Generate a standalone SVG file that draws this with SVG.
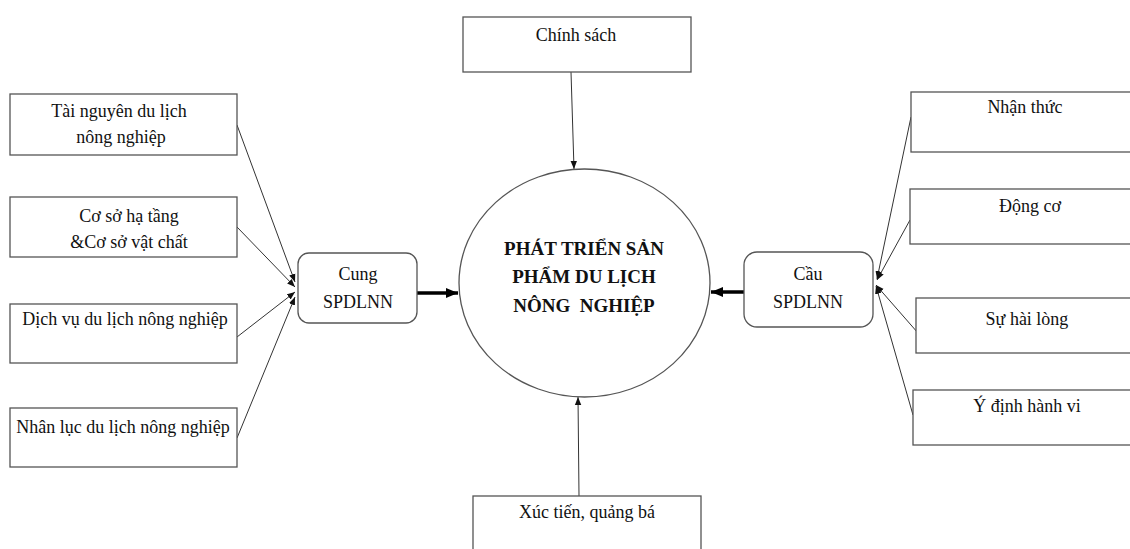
<svg xmlns="http://www.w3.org/2000/svg" width="1130" height="549" viewBox="0 0 1130 549">
<style>
.box{fill:#fff;stroke:#555;stroke-width:1.3}
.t{font-family:"Liberation Serif","Times New Roman",serif;font-size:18px;fill:#111;text-anchor:middle}
.b{font-family:"Liberation Serif","Times New Roman",serif;font-size:19px;font-weight:bold;fill:#111;text-anchor:middle;white-space:pre}
.thin{stroke:#333;stroke-width:1;fill:none}
.thick{stroke:#000;stroke-width:3.5;fill:none}
</style>
<defs>
<marker id="ah" markerUnits="userSpaceOnUse" markerWidth="8" markerHeight="8" viewBox="0 0 8 8" refX="8" refY="4" orient="auto">
<path d="M0,0.8 L8,4 L0,7.2 Z" fill="#111"/>
</marker>
<marker id="ahb" markerUnits="userSpaceOnUse" markerWidth="12" markerHeight="12" viewBox="0 0 12 12" refX="12" refY="6" orient="auto">
<path d="M0,1 L12,6 L0,11 Z" fill="#000"/>
</marker>
</defs>
<rect width="1130" height="549" fill="#fff"/>
<g id="connectors">
<line class="thin" x1="237" y1="125" x2="295" y2="282" marker-end="url(#ah)"/>
<line class="thin" x1="237" y1="227" x2="295" y2="287" marker-end="url(#ah)"/>
<line class="thin" x1="237" y1="337" x2="295" y2="292" marker-end="url(#ah)"/>
<line class="thin" x1="237" y1="438" x2="295" y2="297" marker-end="url(#ah)"/>
<line class="thin" x1="911" y1="117" x2="877" y2="279" marker-end="url(#ah)"/>
<line class="thin" x1="910" y1="220" x2="877" y2="280" marker-end="url(#ah)"/>
<line class="thin" x1="918" y1="333" x2="876" y2="285" marker-end="url(#ah)"/>
<line class="thin" x1="913" y1="415" x2="876" y2="286" marker-end="url(#ah)"/>
<line class="thin" x1="571" y1="72" x2="574" y2="169" marker-end="url(#ah)"/>
<line class="thin" x1="579" y1="496" x2="578" y2="397" marker-end="url(#ah)"/>
<line class="thick" x1="417" y1="293" x2="458" y2="293" marker-end="url(#ahb)"/>
<line class="thick" x1="744" y1="292" x2="711" y2="292" marker-end="url(#ahb)"/>
</g>
<g id="center">
<ellipse class="box" cx="584.5" cy="283" rx="125.5" ry="114"/>
<text class="b" x="584" y="255">PHÁT TRIỂN SẢN</text>
<text class="b" x="584" y="283">PHẨM DU LỊCH</text>
<text class="b" x="584" y="312" xml:space="preserve">NÔNG  NGHIỆP</text>
</g>
<g id="cung">
<rect class="box" x="298" y="253" width="119" height="70" rx="11"/>
<text class="t" x="358" y="280">Cung</text>
<text class="t" x="358" y="308">SPDLNN</text>
</g>
<g id="cau">
<rect class="box" x="744" y="252" width="129" height="75" rx="13"/>
<text class="t" x="808" y="280">Cầu</text>
<text class="t" x="808" y="308">SPDLNN</text>
</g>
<g id="chinhsach">
<rect class="box" x="463" y="17" width="228" height="55"/>
<text class="t" x="576" y="41">Chính sách</text>
</g>
<g id="xuctien">
<rect class="box" x="473" y="496" width="228" height="70"/>
<text class="t" x="587" y="518">Xúc tiến, quảng bá</text>
</g>
<g id="tainguyen">
<rect class="box" x="10" y="94" width="227" height="61"/>
<text class="t" x="119" y="117">Tài nguyên du lịch</text>
<text class="t" x="121" y="143">nông nghiệp</text>
</g>
<g id="cosohatang">
<rect class="box" x="10" y="197" width="227" height="60"/>
<text class="t" x="129" y="222">Cơ sở hạ tầng</text>
<text class="t" x="129" y="248">&amp;Cơ sở vật chất</text>
</g>
<g id="dichvu">
<rect class="box" x="10" y="304" width="227" height="59"/>
<text class="t" x="125" y="325">Dịch vụ du lịch nông nghiệp</text>
</g>
<g id="nhanluc">
<rect class="box" x="10" y="408" width="227" height="59"/>
<text class="t" x="123" y="433">Nhân lục du lịch nông nghiệp</text>
</g>
<g id="nhanthuc">
<rect class="box" x="911" y="92" width="230" height="60"/>
<text class="t" x="1025" y="113">Nhận thức</text>
</g>
<g id="dongco">
<rect class="box" x="910" y="189" width="230" height="55"/>
<text class="t" x="1030" y="212">Động cơ</text>
</g>
<g id="suhailong">
<rect class="box" x="916" y="298" width="230" height="55"/>
<text class="t" x="1027" y="325">Sự hài lòng</text>
</g>
<g id="ydinh">
<rect class="box" x="913" y="390" width="230" height="55"/>
<text class="t" x="1027" y="412">Ý định hành vi</text>
</g>
</svg>
